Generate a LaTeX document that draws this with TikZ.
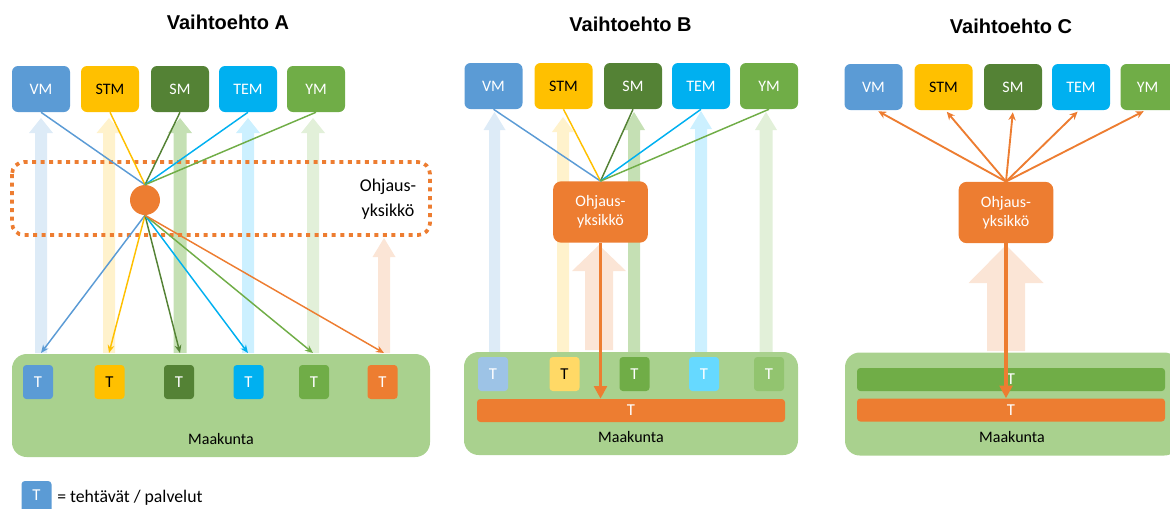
\documentclass[tikz,border=0pt]{standalone}
\usepackage{fontspec}
\setmainfont{Carlito}
\newfontfamily\titlefont{Liberation Sans}
\usetikzlibrary{arrows.meta}

% ministry colours and their pale variants
\definecolor{vmc}{HTML}{5B9BD5}
\definecolor{stmc}{HTML}{FFC000}
\definecolor{smc}{HTML}{548235}
\definecolor{temc}{HTML}{00B0F0}
\definecolor{ymc}{HTML}{70AD47}
\definecolor{orc}{HTML}{ED7D31}
\definecolor{mkc}{HTML}{A9D18E}
\definecolor{pvm}{HTML}{DDEBF7}
\definecolor{pstm}{HTML}{FFF2CC}
\definecolor{psm}{HTML}{C5E0B4}
\definecolor{ptem}{HTML}{CCF0FF}
\definecolor{pym}{HTML}{E2F0D9}
\definecolor{por}{HTML}{FBE5D6}
\definecolor{lvm}{HTML}{9DC3E6}
\definecolor{lstm}{HTML}{FFD966}
\definecolor{lsm}{HTML}{70AD47}
\definecolor{ltem}{HTML}{66D9FF}
\definecolor{lym}{HTML}{92C46F}

% wide pale upward arrow: x, tip y, head base y, bottom y, half shaft, half head, colour
\newcommand\fatarrow[7]{%
  \fill[#7] (#1,#2) -- ({#1+#6},#3) -- ({#1+#5},#3) -- ({#1+#5},#4)
    -- ({#1-#5},#4) -- ({#1-#5},#3) -- ({#1-#6},#3) -- cycle;}

\begin{document}
\begin{tikzpicture}[x=0.75pt,y=-0.75pt,
  title/.style={font=\titlefont\bfseries\fontsize{15}{18}\selectfont},
  topbox/.style={rounded corners=4.5pt, minimum width=43.5pt, minimum height=34.5pt,
    inner sep=0pt, text=white, font=\fontsize{12}{14}\selectfont},
  tbox/.style={rounded corners=2.5pt, minimum width=22.5pt, minimum height=25.5pt,
    inner sep=0pt, text=white, font=\fontsize{12.5}{14}\selectfont},
  bar/.style={rounded corners=2.5pt, minimum width=231pt, minimum height=17.25pt,
    inner sep=0pt, text=white, font=\fontsize{12.5}{14}\selectfont},
  region/.style={fill=mkc, rounded corners=11pt, minimum width=#1, minimum height=77.25pt, inner sep=0pt},
  mklabel/.style={font=\fontsize{12}{14}\selectfont},
  unit/.style={fill=orc, rounded corners=6pt, minimum width=71pt, minimum height=46pt,
    inner sep=0pt, text=white, align=center, font=\fontsize{12}{14.25}\selectfont},
  thin/.style={line width=1.1pt},
  thinarr/.style={line width=1.1pt, -{Stealth[length=6pt,width=5pt]}},
  upr/.style={line width=1.4pt, orc, -{Stealth[length=6pt,width=5.5pt]}, shorten >=1.5pt},
  down/.style={line width=2.6pt, orc, -{Triangle[length=9.5pt,width=9.5pt]}}
]
\useasboundingbox (0,0) rectangle (1170,508);
\clip (0,0) rectangle (1170,508);

% ---------------- Vaihtoehto A ----------------
\node[title] (titA) at (228,22.5) {Vaihtoehto A};

\coordinate (cA1) at (41,353);
\coordinate (cA2) at (109,353);
\coordinate (cA3) at (180,353);
\coordinate (cA4) at (248,353);
\coordinate (cA5) at (313,353);
\coordinate (cA6) at (384,353);

\fatarrow{41}{118}{133}{353}{6}{12}{pvm}
\fatarrow{109}{118}{133}{353}{6}{12.5}{pstm}
\fatarrow{180}{118}{133}{353}{6.5}{12}{psm}
\fatarrow{248}{118}{133}{353}{6}{12}{ptem}
\fatarrow{313}{118}{133}{353}{6}{12}{pym}
\fatarrow{384}{238}{257}{353}{6}{11.5}{por}

\draw[orc, line width=2.8pt, dash pattern=on 3pt off 3.4pt, rounded corners=9pt]
  (12,162) rectangle (430,235);
\node[align=center, font=\fontsize{13.5}{18.75}\selectfont] (unitA) at (388,199.5) {Ohjaus-\\yksikkö};

\node[topbox, fill=vmc] (vmA) at (41,89) {VM};
\node[topbox, fill=stmc, text=black] (stmA) at (110,89) {STM};
\node[topbox, fill=smc] (smA) at (180,89) {SM};
\node[topbox, fill=temc] (temA) at (248,89) {TEM};
\node[topbox, fill=ymc] (ymA) at (316,89) {YM};

\node[circle, fill=orc, minimum size=22.5pt, inner sep=0pt] (hubA) at (145,200) {};

\draw[thin, vmc] (vmA.south) -- (hubA.north);
\draw[thin, stmc] (stmA.south) -- (hubA.north);
\draw[thin, smc] (smA.south) -- (hubA.north);
\draw[thin, temc] (temA.south) -- (hubA.north);
\draw[thin, ymc] (ymA.south) -- (hubA.north);

\node[region=313.5pt] (mkA) at (221,405.5) {};
\node[mklabel] (mkAl) at (221,439) {Maakunta};

\draw[thinarr, vmc] (hubA.south) -- (cA1);
\draw[thinarr, stmc] (hubA.south) -- (cA2);
\draw[thinarr, smc] (hubA.south) -- (cA3);
\draw[thinarr, temc] (hubA.south) -- (cA4);
\draw[thinarr, ymc] (hubA.south) -- (cA5);
\draw[thinarr, orc] (hubA.south) -- (cA6);

\node[tbox, fill=vmc] (tA1) at (38,382) {T};
\node[tbox, fill=stmc, text=black] (tA2) at (109.5,382) {T};
\node[tbox, fill=smc] (tA3) at (179,382) {T};
\node[tbox, fill=temc] (tA4) at (248.5,382) {T};
\node[tbox, fill=ymc] (tA5) at (314,382) {T};
\node[tbox, fill=orc] (tA6) at (382.5,382) {T};

% ---------------- Vaihtoehto B ----------------
\node[title] (titB) at (630.5,24.5) {Vaihtoehto B};

\fatarrow{494.5}{112}{130}{352}{5.5}{11}{pvm}
\fatarrow{563}{117}{132}{352}{6}{11}{pstm}
\fatarrow{634}{112}{130}{352}{6}{11}{psm}
\fatarrow{701}{111}{129}{352}{6}{11}{ptem}
\fatarrow{766}{112}{130}{352}{6.5}{11}{pym}
\fatarrow{599}{245}{271}{350}{14}{27}{por}

\node[topbox, fill=vmc] (vmB) at (493.5,86) {VM};
\node[topbox, fill=stmc, text=black] (stmB) at (563.5,86) {STM};
\node[topbox, fill=smc] (smB) at (633,86) {SM};
\node[topbox, fill=temc] (temB) at (701,86) {TEM};
\node[topbox, fill=ymc] (ymB) at (769,86) {YM};

\node[unit] (unitB) at (600.5,212) {Ohjaus-\\yksikkö};

\draw[thin, vmc] (vmB.south) -- (unitB.north);
\draw[thin, stmc] (stmB.south) -- (unitB.north);
\draw[thin, smc] (smB.south) -- (unitB.north);
\draw[thin, temc] (temB.south) -- (unitB.north);
\draw[thin, ymc] (ymB.south) -- (unitB.north);

\node[region=250.5pt] (mkB) at (631,403.5) {};
\node[mklabel] (mkBl) at (631,437) {Maakunta};

\node[tbox, fill=lvm] (tB1) at (493,374) {T};
\node[tbox, fill=lstm, text=black] (tB2) at (564.5,374) {T};
\node[tbox, fill=lsm] (tB3) at (634.5,374) {T};
\node[tbox, fill=ltem] (tB4) at (704,374) {T};
\node[tbox, fill=lym] (tB5) at (769,374) {T};
\node[bar, fill=orc] (barB) at (631,410.5) {T};

\draw[down] (unitB.south) -- (unitB.south |- barB.north);

% ---------------- Vaihtoehto C ----------------
\node[title] (titC) at (1011,26.5) {Vaihtoehto C};

\fatarrow{1006}{245}{283}{351}{19}{37.5}{por}

\node[topbox, fill=vmc] (vmC) at (873.5,87) {VM};
\node[topbox, fill=stmc, text=black] (stmC) at (943.5,87) {STM};
\node[topbox, fill=smc] (smC) at (1013,87) {SM};
\node[topbox, fill=temc] (temC) at (1081,87) {TEM};
\node[topbox, fill=ymc] (ymC) at (1149.5,87) {};
\node[font=\fontsize{12}{14}\selectfont, text=white] (ymCl) at (1147.5,87) {YM};

\node[unit] (unitC) at (1006,212.5) {Ohjaus-\\yksikkö};

\draw[upr] (unitC.north) -- ([xshift=2.25pt]vmC.south);
\draw[upr] (unitC.north) -- ([xshift=1.5pt]stmC.south);
\draw[upr] (unitC.north) -- (smC.south);
\draw[upr] (unitC.north) -- ([xshift=-1.5pt]temC.south);
\draw[upr] (unitC.north) -- ([xshift=-3pt]ymC.south);

\node[region=250.5pt] (mkC) at (1012,404) {};
\node[mklabel] (mkCl) at (1012,437) {Maakunta};

\node[bar, fill=ymc] (barC1) at (1011,379.5) {T};
\node[bar, fill=orc] (barC2) at (1011,410) {T};

\draw[down] (unitC.south) -- (unitC.south |- barC2.north);

% ---------------- legend ----------------
\node[tbox, fill=vmc] (tLeg) at (36.5,498) {};
\node[font=\fontsize{12.5}{14}\selectfont, text=white] (tLegl) at (36.5,495) {T};
\node[anchor=west, inner sep=0pt, font=\fontsize{13.3}{16}\selectfont] (legtxt) at (57,497.5) {= tehtävät / palvelut};

\end{tikzpicture}
\end{document}
